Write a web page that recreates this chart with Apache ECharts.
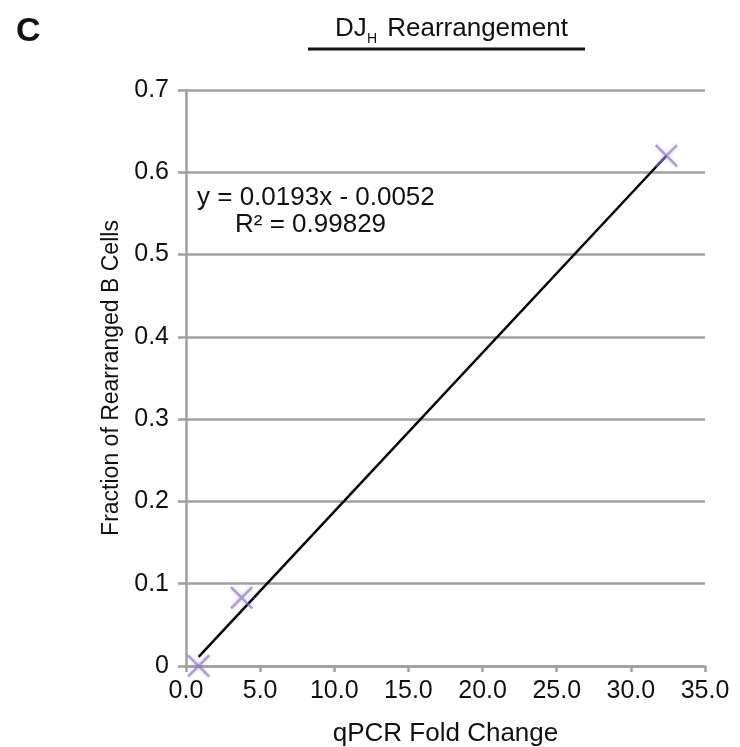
<!DOCTYPE html>
<html><head><meta charset="utf-8">
<script src="https://cdn.jsdelivr.net/npm/echarts@6/dist/echarts.min.js"></script>
<style>html,body{margin:0;padding:0;background:#fff}#c{width:740px;height:747px}</style>
</head><body><div id="c"></div>
<script>
var foldChange = [0.85, 3.75, 32.4];
var fraction = [0.0, 0.083, 0.620];
var slope = 0.0193;
var intercept = -0.0052;
var rSquared = '0.99829';
var xTicks = [0, 5, 10, 15, 20, 25, 30, 35];
var yTicks = [0, 0.1, 0.2, 0.3, 0.4, 0.5, 0.6, 0.7];

var pts = foldChange.map(function(x, i){ return [x, fraction[i]]; });
var xmin = Math.min.apply(null, foldChange), xmax = Math.max.apply(null, foldChange);
var trend = [[xmin, slope*xmin+intercept], [xmax, slope*xmax+intercept]];
var F = 'Liberation Sans, Arial, sans-serif';
var chart = echarts.init(document.getElementById('c'));
chart.setOption({
  animation: false,
  backgroundColor: '#fff',
  grid: {left: 186, right: 35, top: 90, bottom: 81, containLabel: false, outerBoundsMode: 'none'},
  xAxis: {
    type: 'value', min: xTicks[0], max: xTicks[xTicks.length-1], interval: xTicks[1]-xTicks[0],
    name: 'qPCR Fold Change', nameLocation: 'middle', nameGap: 55,
    nameTextStyle: {fontFamily: F, fontSize: 26, color: '#111'},
    axisLine: {lineStyle: {color: '#a0a0a0', width: 2.5}},
    axisTick: {show: true, length: 6, lineStyle: {color: '#a0a0a0', width: 2.5}},
    axisLabel: {fontFamily: F, fontSize: 25, color: '#111', margin: 13,
      formatter: function(v){ return v.toFixed(1); }},
    splitLine: {show: false}
  },
  yAxis: {
    type: 'value', min: yTicks[0], max: yTicks[yTicks.length-1], interval: 0.1,
    name: 'Fraction of Rearranged B Cells', nameLocation: 'middle', nameGap: 52,
    nameTextStyle: {fontFamily: F, fontSize: 23, color: '#111'},
    axisLine: {show: true, lineStyle: {color: '#a0a0a0', width: 2.5}},
    axisTick: {show: true, length: 8, lineStyle: {color: '#a0a0a0', width: 2.5}},
    axisLabel: {fontFamily: F, fontSize: 25, color: '#111', margin: 17,
      formatter: function(v){ return v === 0 ? '0' : v.toFixed(1); }},
    splitLine: {show: true, lineStyle: {color: '#a0a0a0', width: 2.5}}
  },
  series: [
    {
      type: 'line', data: trend, symbol: 'none', z: 3,
      lineStyle: {color: '#000', width: 2.5}
    },
    {
      type: 'scatter', data: pts, z: 4,
      symbol: 'path://M0,1.5 L1.5,0 L10,8.5 L18.5,0 L20,1.5 L11.5,10 L20,18.5 L18.5,20 L10,11.5 L1.5,20 L0,18.5 L8.5,10 Z',
      symbolSize: 23,
      itemStyle: {color: 'rgba(135,115,190,0.8)', shadowBlur: 4, shadowColor: 'rgba(135,115,190,0.6)'}
    }
  ],
  graphic: [
    {type: 'text', style: {x: 16, y: 32, text: 'C', font: 'bold 34px ' + F, fill: '#111', verticalAlign: 'middle'}},
    {type: 'text', style: {x: 335, y: 16, text: 'DJ', font: '26px ' + F, fill: '#111', verticalAlign: 'top'}},
    {type: 'text', style: {x: 367, y: 32, text: 'H', font: '14px ' + F, fill: '#111', verticalAlign: 'top'}},
    {type: 'text', style: {x: 380, y: 16, text: ' Rearrangement', font: '26px ' + F, fill: '#111', verticalAlign: 'top'}},
    {type: 'line', shape: {x1: 308, y1: 49, x2: 585, y2: 49}, style: {stroke: '#111', lineWidth: 3}},
    {type: 'text', style: {x: 197, y: 185, text: 'y = ' + slope + 'x - ' + Math.abs(intercept).toFixed(4), font: '26px ' + F, fill: '#111', verticalAlign: 'top'}},
    {type: 'text', style: {x: 235, y: 212, text: 'R² = ' + rSquared, font: '26px ' + F, fill: '#111', verticalAlign: 'top'}}
  ]
});
</script></body></html>
